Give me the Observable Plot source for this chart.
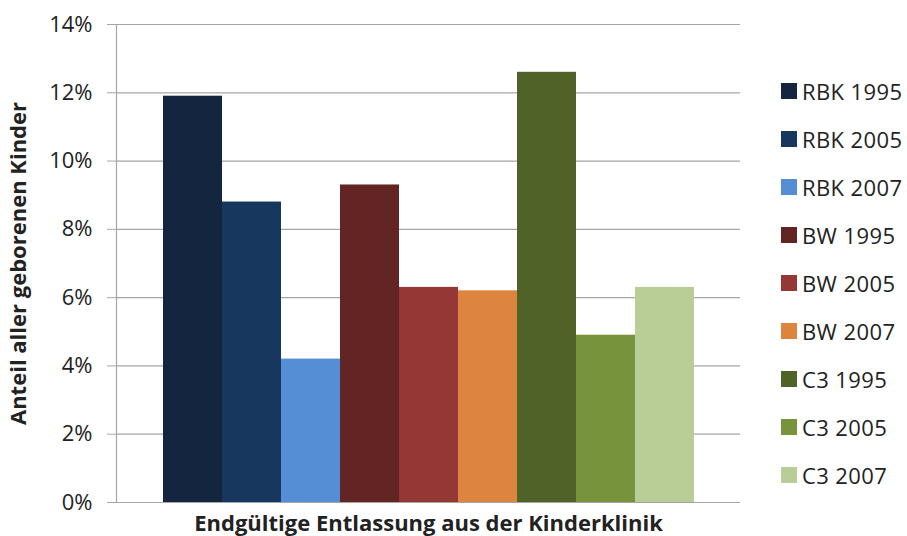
<!DOCTYPE html>
<html><head><meta charset="utf-8">
<script src="https://cdn.jsdelivr.net/npm/d3@7"></script>
<script src="https://cdn.jsdelivr.net/npm/@observablehq/plot@0.6"></script>
<style>
body{margin:0;background:#fff;}
#wrap{position:relative;width:907px;height:536px;font-family:"Open Sans",Lato,sans-serif;color:#222;}
#legend{position:absolute;left:781px;top:0;}
.item{position:absolute;left:0;height:20px;display:flex;align-items:center;white-space:nowrap;font-size:22px;letter-spacing:0.4px;}
.sw{width:16px;height:16px;margin-right:5px;}
</style></head>
<body><div id="wrap"></div>
<script>
const series = ["RBK 1995","RBK 2005","RBK 2007","BW 1995","BW 2005","BW 2007","C3 1995","C3 2005","C3 2007"];
const values = [0.119,0.088,0.042,0.093,0.063,0.062,0.126,0.049,0.063];
const colors = ["#14253f","#17375e","#558ed5","#632523","#953735","#dd843e","#4f6228","#77933c","#b9cd96"];
const yTicks = [0,0.02,0.04,0.06,0.08,0.10,0.12,0.14];
const xTitle = "Endgültige Entlassung aus der Kinderklinik";
const yTitle = "Anteil aller geborenen Kinder";

const data = series.map((s,i)=>({series:s, value:values[i]}));

const chart = Plot.plot({
  width: 907, height: 536,
  marginLeft: 116, marginRight: 167, marginTop: 24, marginBottom: 34,
  style: {fontFamily: "'Open Sans', Lato, sans-serif", fontSize: "22px", color: "#222", background: "#fff"},
  x: {domain: series, paddingInner: 0, paddingOuter: 0.76},
  y: {domain: [0, 0.14]},
  color: {domain: series, range: colors},
  marks: [
    Plot.gridY(yTicks, {stroke: "#a6a6a6", strokeOpacity: 1, strokeWidth: 1.2}),
    Plot.barY(data, {x: "series", y: "value", fill: "series"}),
    Plot.ruleY([0], {stroke: "#a6a6a6", strokeWidth: 1.2, insetLeft: -9}),
    Plot.frame({anchor: "left", stroke: "#a6a6a6", strokeWidth: 1.2}),
    Plot.axisY({ticks: yTicks, tickFormat: d3.format(".0%"), tickSize: 9, tickPadding: 15, stroke: "#a6a6a6", strokeOpacity: 1,
      fontSize: 22, label: null}),
    Plot.axisY({ticks: [], tickSize: 0, label: yTitle, labelAnchor: "center", labelArrow: "none", labelOffset: 106, fontSize: 22, fontWeight: "bold"}),
    Plot.axisX({tickSize: 0, tickFormat: () => "", label: xTitle, labelAnchor: "center", labelArrow: "none", labelOffset: 28, fontSize: 22, fontWeight: "bold"})
  ]
});
document.getElementById("wrap").appendChild(chart);

const leg = document.createElement("div");
leg.id = "legend";
series.forEach((s,i)=>{
  const it = document.createElement("div");
  it.className = "item";
  it.style.top = (81 + i*48) + "px";
  const sw = document.createElement("div");
  sw.className = "sw"; sw.style.background = colors[i];
  const t = document.createElement("span"); t.textContent = s;
  it.appendChild(sw); it.appendChild(t);
  leg.appendChild(it);
});
document.getElementById("wrap").appendChild(leg);
</script></body></html>
